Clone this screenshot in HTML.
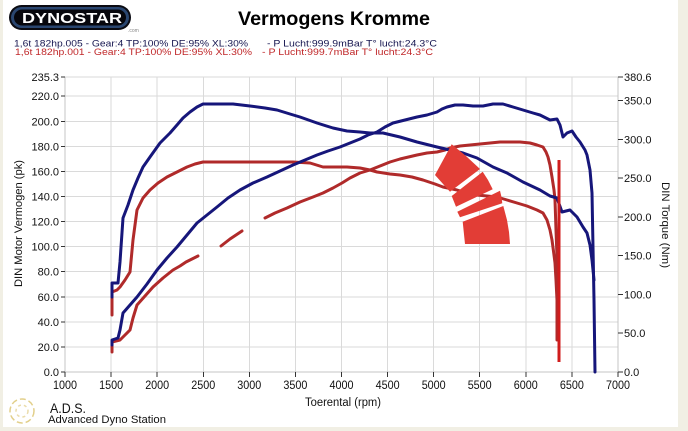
<!DOCTYPE html>
<html><head><meta charset="utf-8"><style>
html,body{margin:0;padding:0;background:#f1efe4;}
svg{display:block;}
text{font-family:"Liberation Sans",Arial,sans-serif;}
</style></head><body>
<svg width="688" height="431" viewBox="0 0 688 431" xmlns="http://www.w3.org/2000/svg">
<rect x="0" y="0" width="688" height="431" fill="#f1efe4"/>
<rect x="3" y="0" width="675" height="427" fill="#ffffff"/>

<!-- Dynostar logo -->
<rect x="9" y="5" width="122" height="25" rx="12.5" fill="#0b0b12"/>
<rect x="11" y="7" width="118" height="21" rx="10.5" fill="#2a4670"/>
<rect x="14" y="9.5" width="112" height="16" rx="8" fill="#07070d"/>
<text x="22" y="23" font-size="15" font-weight="bold" fill="#ffffff" textLength="100" lengthAdjust="spacingAndGlyphs">DYNOSTAR</text>
<text x="128" y="32" font-size="5" fill="#888">.com</text>

<!-- Title -->
<text x="238" y="25" font-size="19" font-weight="bold" fill="#000" textLength="192" lengthAdjust="spacingAndGlyphs">Vermogens Kromme</text>

<!-- info lines -->
<g font-size="9.5">
<text x="14" y="46.5" fill="#161650" textLength="234" lengthAdjust="spacingAndGlyphs">1,6t 182hp.005 - Gear:4 TP:100% DE:95% XL:30%</text>
<text x="267" y="46.5" fill="#161650" textLength="170" lengthAdjust="spacingAndGlyphs">- P Lucht:999.9mBar T° lucht:24.3°C</text>
<text x="15" y="55" fill="#c0282a" textLength="237" lengthAdjust="spacingAndGlyphs">1,6t 182hp.001 - Gear:4 TP:100% DE:95% XL:30%</text>
<text x="262" y="55" fill="#c0282a" textLength="171" lengthAdjust="spacingAndGlyphs">- P Lucht:999.7mBar T° lucht:24.3°C</text>
</g>

<!-- grid -->
<g stroke="#dadada" stroke-width="1" fill="none" shape-rendering="crispEdges">
<line x1="65" y1="77" x2="618" y2="77"/>
<line x1="65" y1="96.2" x2="618" y2="96.2"/>
<line x1="65" y1="121.3" x2="618" y2="121.3"/>
<line x1="65" y1="146.3" x2="618" y2="146.3"/>
<line x1="65" y1="171.4" x2="618" y2="171.4"/>
<line x1="65" y1="196.5" x2="618" y2="196.5"/>
<line x1="65" y1="221.6" x2="618" y2="221.6"/>
<line x1="65" y1="246.6" x2="618" y2="246.6"/>
<line x1="65" y1="271.7" x2="618" y2="271.7"/>
<line x1="65" y1="296.8" x2="618" y2="296.8"/>
<line x1="65" y1="321.9" x2="618" y2="321.9"/>
<line x1="65" y1="346.9" x2="618" y2="346.9"/>
<line x1="111.1" y1="77" x2="111.1" y2="372"/>
<line x1="157.2" y1="77" x2="157.2" y2="372"/>
<line x1="203.3" y1="77" x2="203.3" y2="372"/>
<line x1="249.3" y1="77" x2="249.3" y2="372"/>
<line x1="295.4" y1="77" x2="295.4" y2="372"/>
<line x1="341.5" y1="77" x2="341.5" y2="372"/>
<line x1="387.6" y1="77" x2="387.6" y2="372"/>
<line x1="433.7" y1="77" x2="433.7" y2="372"/>
<line x1="479.7" y1="77" x2="479.7" y2="372"/>
<line x1="525.8" y1="77" x2="525.8" y2="372"/>
<line x1="571.9" y1="77" x2="571.9" y2="372"/>
</g>
<!-- axes -->
<g stroke="#c4c4c4" stroke-width="1" shape-rendering="crispEdges">
<line x1="65" y1="77" x2="65" y2="372"/>
<line x1="618" y1="77" x2="618" y2="372"/>
<line x1="65" y1="372" x2="618" y2="372"/>
</g>
<!-- ticks -->
<g stroke="#333" stroke-width="1" shape-rendering="crispEdges">
<line x1="61" y1="77" x2="65" y2="77"/><line x1="61" y1="96.2" x2="65" y2="96.2"/><line x1="61" y1="121.3" x2="65" y2="121.3"/><line x1="61" y1="146.3" x2="65" y2="146.3"/><line x1="61" y1="171.4" x2="65" y2="171.4"/><line x1="61" y1="196.5" x2="65" y2="196.5"/><line x1="61" y1="221.6" x2="65" y2="221.6"/><line x1="61" y1="246.6" x2="65" y2="246.6"/><line x1="61" y1="271.7" x2="65" y2="271.7"/><line x1="61" y1="296.8" x2="65" y2="296.8"/><line x1="61" y1="321.9" x2="65" y2="321.9"/><line x1="61" y1="346.9" x2="65" y2="346.9"/><line x1="61" y1="372" x2="65" y2="372"/>
<line x1="618" y1="77" x2="623" y2="77"/><line x1="618" y1="100.7" x2="623" y2="100.7"/><line x1="618" y1="139.5" x2="623" y2="139.5"/><line x1="618" y1="178.2" x2="623" y2="178.2"/><line x1="618" y1="217" x2="623" y2="217"/><line x1="618" y1="255.7" x2="623" y2="255.7"/><line x1="618" y1="294.5" x2="623" y2="294.5"/><line x1="618" y1="333.2" x2="623" y2="333.2"/><line x1="618" y1="372" x2="623" y2="372"/>
<line x1="65" y1="372" x2="65" y2="377"/><line x1="111.1" y1="372" x2="111.1" y2="377"/><line x1="157.2" y1="372" x2="157.2" y2="377"/><line x1="203.3" y1="372" x2="203.3" y2="377"/><line x1="249.3" y1="372" x2="249.3" y2="377"/><line x1="295.4" y1="372" x2="295.4" y2="377"/><line x1="341.5" y1="372" x2="341.5" y2="377"/><line x1="387.6" y1="372" x2="387.6" y2="377"/><line x1="433.7" y1="372" x2="433.7" y2="377"/><line x1="479.7" y1="372" x2="479.7" y2="377"/><line x1="525.8" y1="372" x2="525.8" y2="377"/><line x1="571.9" y1="372" x2="571.9" y2="377"/><line x1="618" y1="372" x2="618" y2="377"/>
</g>

<!-- left labels -->
<g font-size="11" fill="#111" text-anchor="end">
<text x="59" y="81">235.3</text><text x="59" y="100.2">220.0</text><text x="59" y="125.3">200.0</text><text x="59" y="150.3">180.0</text><text x="59" y="175.4">160.0</text><text x="59" y="200.5">140.0</text><text x="59" y="225.6">120.0</text><text x="59" y="250.6">100.0</text><text x="59" y="275.7">80.0</text><text x="59" y="300.8">60.0</text><text x="59" y="325.9">40.0</text><text x="59" y="350.9">20.0</text><text x="59" y="376">0.0</text>
</g>
<!-- right labels -->
<g font-size="11" fill="#111">
<text x="624" y="81">380.6</text><text x="624" y="104.7">350.0</text><text x="624" y="143.5">300.0</text><text x="624" y="182.2">250.0</text><text x="624" y="221">200.0</text><text x="624" y="259.7">150.0</text><text x="624" y="298.5">100.0</text><text x="624" y="337.2">50.0</text><text x="624" y="376">0.0</text>
</g>
<!-- x labels -->
<g font-size="12" fill="#111" text-anchor="middle">
<text x="65" y="389" textLength="24" lengthAdjust="spacingAndGlyphs">1000</text>
<text x="111.1" y="389" textLength="24" lengthAdjust="spacingAndGlyphs">1500</text>
<text x="157.2" y="389" textLength="24" lengthAdjust="spacingAndGlyphs">2000</text>
<text x="203.3" y="389" textLength="24" lengthAdjust="spacingAndGlyphs">2500</text>
<text x="249.3" y="389" textLength="24" lengthAdjust="spacingAndGlyphs">3000</text>
<text x="295.4" y="389" textLength="24" lengthAdjust="spacingAndGlyphs">3500</text>
<text x="341.5" y="389" textLength="24" lengthAdjust="spacingAndGlyphs">4000</text>
<text x="387.6" y="389" textLength="24" lengthAdjust="spacingAndGlyphs">4500</text>
<text x="433.7" y="389" textLength="24" lengthAdjust="spacingAndGlyphs">5000</text>
<text x="479.7" y="389" textLength="24" lengthAdjust="spacingAndGlyphs">5500</text>
<text x="525.8" y="389" textLength="24" lengthAdjust="spacingAndGlyphs">6000</text>
<text x="571.9" y="389" textLength="24" lengthAdjust="spacingAndGlyphs">6500</text>
<text x="618" y="389" textLength="24" lengthAdjust="spacingAndGlyphs">7000</text>
</g>
<text x="343" y="406" font-size="11.5" fill="#111" text-anchor="middle" textLength="76" lengthAdjust="spacingAndGlyphs">Toerental (rpm)</text>

<!-- axis titles -->
<text transform="translate(22,223.5) rotate(-90)" font-size="11" fill="#111" text-anchor="middle" textLength="127" lengthAdjust="spacingAndGlyphs">DIN Motor Vermogen (pk)</text>
<text transform="translate(662,225) rotate(90)" font-size="11" fill="#111" text-anchor="middle" textLength="86" lengthAdjust="spacingAndGlyphs">DIN Torque (Nm)</text>

<!-- curves -->
<g fill="none" stroke-width="3" stroke-linejoin="round" stroke-linecap="round">
<polyline stroke="#b02a2a" points="112,315 112,292 117,290 120,287 125,280 130,272 133,240 137,210 143,198 150,190 158,183 167,177 177,172 187,167 195,164 203,162 220,162 250,162 293,162 310,163 323,167 335,167 347,167 360,168 370,170 377,172 390,174 400,175 412,177 423,180 435,184 443,187 457,190 467,193 477,195 487,196 497,197 507,200 517,203 527,206 537,210 543,213 547,220 550,230 552,240 554,255 555,263 556,280 557,300 557,340"/>
<polyline stroke="#b02a2a" points="112,352 112,342 116,341 120,340 125,335 130,330 133,318 137,305 145,296 153,287 163,278 173,270 180,266 186,262 192,259 198,256"/>
<polyline stroke="#b02a2a" points="221,246 230,239 236,235 242,231"/>
<polyline stroke="#b02a2a" points="265,218 275,213 287,208 300,202 313,197 323,193 333,188 342,183 350,178 360,173 370,170 380,166 390,162 400,159 417,155 427,153 437,152 445,150 450,148 460,146 470,145 480,144 490,143 500,142 510,142 520,142 530,143 537,145 543,147 546,152 548,157 550,165 552,177 554,190 555,200 556,230 557,257 557,300 557,337"/>
<polyline stroke="#16167a" points="112,297 112,283 118,283 120,262 123,218 128,205 133,190 138,178 143,167 150,157 160,143 170,133 177,125 183,118 190,112 197,107 203,104 215,104 233,104 250,106 265,108 277,110 290,114 300,117 317,123 333,128 347,131 360,132 370,133 383,133 400,137 417,142 437,147 450,150 463,153 477,158 493,167 507,173 523,182 540,190 550,196 557,198 562,212 570,210 577,217 583,227 587,233 590,245 592,260 594,280"/>
<polyline stroke="#16167a" points="112,345 112,340 118,338 120,330 123,313 130,305 137,297 147,284 157,270 167,258 177,247 187,235 197,223 207,215 217,207 228,198 240,190 253,183 267,177 280,171 293,165 305,160 317,155 328,151 340,147 350,143 360,139 368,135 377,132 385,127 393,123 405,120 417,117 427,115 437,112 442,109 447,107 455,105 463,105 473,106 483,106 493,104 503,104 513,107 523,110 533,113 540,115 550,120 557,119 560,125 563,137 567,133 572,131 576,137 580,142 585,150 587,155 590,170 592,193 593,247 594,300 595,372"/>
</g>
<line x1="559" y1="160" x2="559" y2="362" stroke="#d01c1c" stroke-width="3"/>

<!-- red watermark logo -->
<g fill="#e23d36">
<polygon points="435,175 451.7,144.3 466,156 480,169 450,191.7"/>
<polygon points="451.7,196 482.7,171.7 488,180 492.7,189.3 456,206.7"/>
<polygon points="457.3,211.7 500,190.7 501.5,197 502.3,203.3 460,217.3"/>
<polygon points="462.7,221.7 503.3,206 507,220 509,232 510,244 465,244"/>
</g>

<!-- ADS logo -->
<g fill="none" stroke="#e2cf8a" stroke-width="1.5">
<circle cx="22" cy="411" r="12" stroke-dasharray="6 3"/>
<circle cx="22" cy="411" r="6" stroke-dasharray="3 3" stroke="#eadcaa"/>
</g>
<text x="50" y="413" font-size="13.5" fill="#111" textLength="36" lengthAdjust="spacingAndGlyphs">A.D.S.</text>
<text x="48" y="423" font-size="11" fill="#111" textLength="118" lengthAdjust="spacingAndGlyphs">Advanced Dyno Station</text>
</svg>
</body></html>
